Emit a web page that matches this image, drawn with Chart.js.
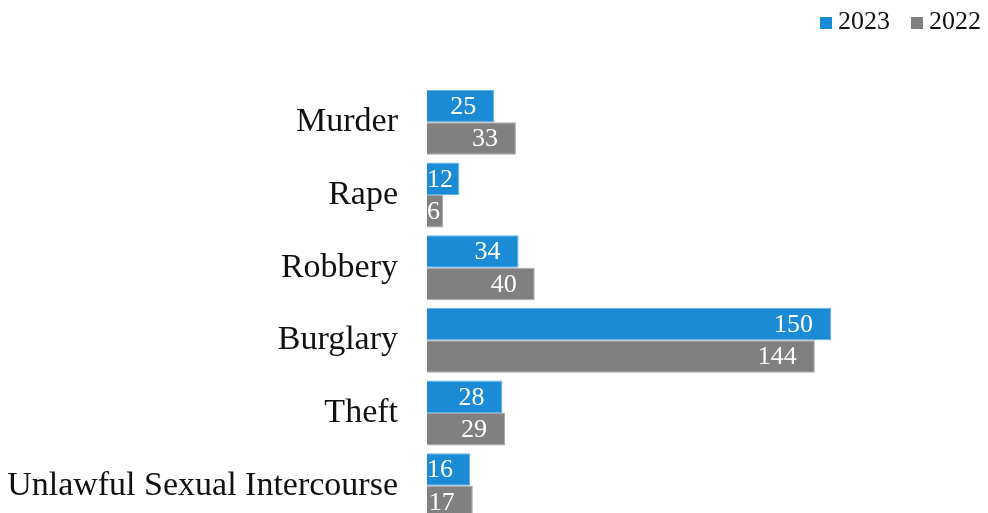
<!DOCTYPE html>
<html>
<head>
<meta charset="utf-8">
<script src="https://cdn.jsdelivr.net/npm/chart.js@4"></script>
<style>
  html, body { margin: 0; padding: 0; background: #fff; overflow: hidden; }
  #wrap { position: relative; width: 988px; height: 524px; }
  .legend-box { position: absolute; width: 12px; height: 12px; top: 17px; }
  .legend-text { position: absolute; top: 8px; font: 26px/26px 'Liberation Serif', 'Times New Roman', serif; color: #111; }
</style>
</head>
<body>
<div id="wrap">
  <canvas id="crime-chart"></canvas>
  <div id="legend"></div>
</div>
<script>
// Categories and values
const categories = ['Murder', 'Rape', 'Robbery', 'Burglary', 'Theft', 'Unlawful Sexual Intercourse'];
const values2023 = [25, 12, 34, 150, 28, 16];
const values2022 = [33, 6, 40, 144, 29, 17];
const seriesNames = ['2023', '2022'];
const seriesColors = ['#1b8bd6', '#808080'];

const SERIF = "'Liberation Serif', 'Times New Roman', serif";

// Legend in HTML, top right
const legendPos = [820, 911];
const legendEl = document.getElementById('legend');
seriesNames.forEach((name, i) => {
    const box = document.createElement('div');
    box.className = 'legend-box';
    box.style.left = legendPos[i] + 'px';
    box.style.background = seriesColors[i];
    const txt = document.createElement('div');
    txt.className = 'legend-text';
    txt.style.left = (legendPos[i] + 18) + 'px';
    txt.textContent = name;
    legendEl.appendChild(box);
    legendEl.appendChild(txt);
});

// Value labels drawn inside the end of each bar
const barValueLabels = {
    id: 'barValueLabels',
    afterDatasetsDraw(chart) {
        const ctx = chart.ctx;
        ctx.save();
        ctx.font = '26px ' + SERIF;
        ctx.fillStyle = '#fff';
        ctx.textBaseline = 'middle';
        ctx.textAlign = 'right';
        chart.data.datasets.forEach((ds, i) => {
            const meta = chart.getDatasetMeta(i);
            meta.data.forEach((bar, j) => {
                const text = String(ds.data[j]);
                const w = ctx.measureText(text).width;
                let x = bar.x - 18;
                if (x - w < bar.base) x = bar.base + w;
                ctx.fillText(text, x, bar.y + 1);
            });
        });
        ctx.restore();
    }
};

new Chart(document.getElementById('crime-chart'), {
    type: 'bar',
    data: {
        labels: categories,
        datasets: seriesNames.map((name, i) => ({
            label: name,
            data: i === 0 ? values2023 : values2022,
            backgroundColor: seriesColors[i],
            borderColor: i === 0 ? '#62b1e6' : '#a6a6a6',
            borderWidth: 1,
            categoryPercentage: 0.894,
            barPercentage: 1.0
        }))
    },
    options: {
        indexAxis: 'y',
        responsive: true,
        maintainAspectRatio: false,
        animation: false,
        layout: {
            padding: { top: 86, right: 0, bottom: 2, left: 0 }
        },
        plugins: {
            legend: { display: false },
            tooltip: { enabled: false }
        },
        scales: {
            x: {
                display: false,
                min: 0,
                max: 208.3
            },
            y: {
                grid: { display: false, drawTicks: false },
                border: { display: false },
                ticks: {
                    padding: 29,
                    color: '#111',
                    font: { family: SERIF, size: 34 }
                },
                afterFit(scale) {
                    scale.width = 427;
                    scale.paddingTop = 0;
                    scale.paddingBottom = 0;
                }
            }
        }
    },
    plugins: [barValueLabels]
});
</script>
</body>
</html>
